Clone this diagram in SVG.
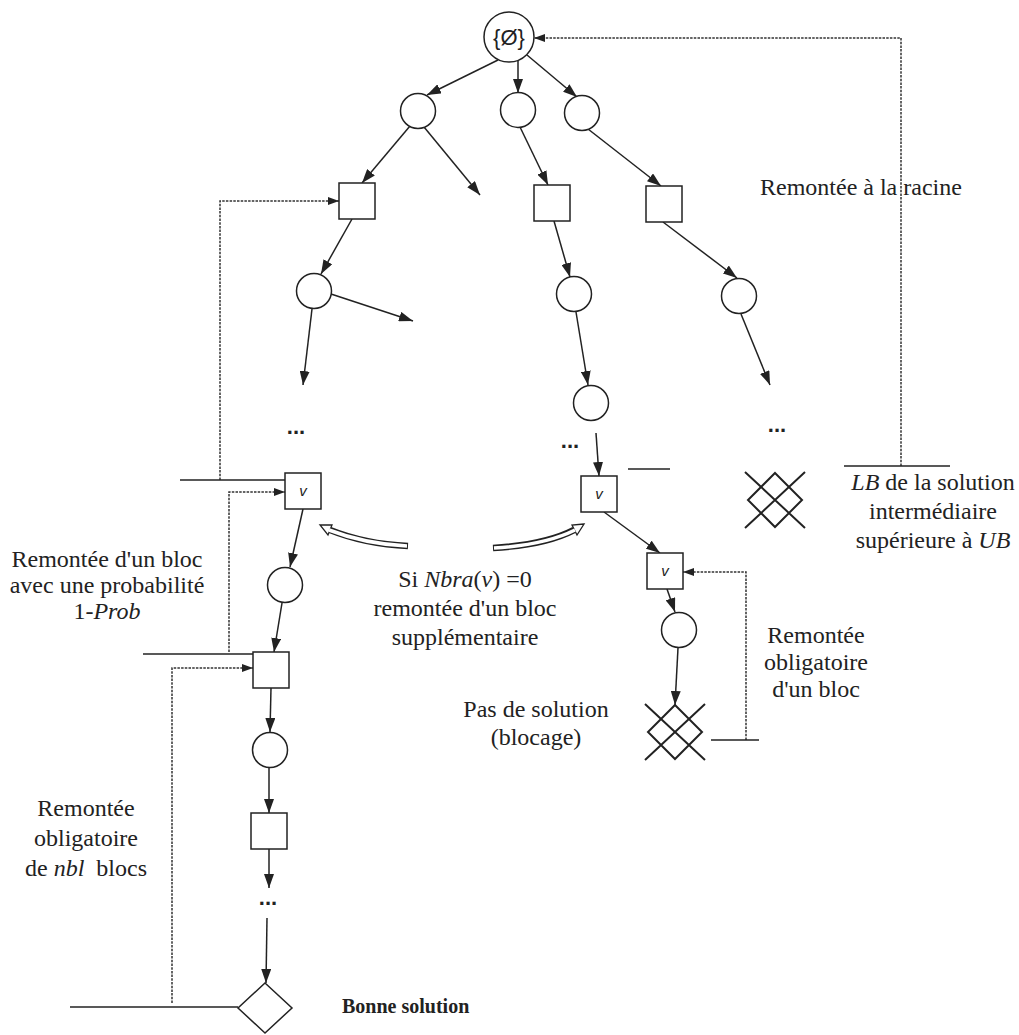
<svg xmlns="http://www.w3.org/2000/svg" width="1019" height="1035" viewBox="0 0 1019 1035">
<defs>
<style>
.n{fill:#fff;stroke:#222;stroke-width:1.5}
.e{stroke:#222;stroke-width:1.5;fill:none;marker-end:url(#ah)}
.d{stroke:#333;stroke-width:1.5;fill:none;stroke-dasharray:2.5 1.2;marker-end:url(#ahs)}
.s{stroke:#222;stroke-width:1.5;fill:none}
.x{stroke:#222;stroke-width:2;fill:none}
.t{font-family:"Liberation Serif",serif;font-size:24px;fill:#222}
.m{text-anchor:middle}
.v{font-family:"Liberation Sans",sans-serif;font-style:italic;font-size:15px;fill:#222;text-anchor:middle}
.dots{font-family:"Liberation Sans",sans-serif;font-weight:bold;font-size:22px;fill:#222;text-anchor:middle}
.bo{stroke:#222;stroke-width:6.5;fill:none}
.bi{stroke:#fff;stroke-width:3.5;fill:none}
.hd{fill:#fff;stroke:#222;stroke-width:1.3;stroke-linejoin:miter}
</style>
<marker id="ah" markerUnits="userSpaceOnUse" markerWidth="14" markerHeight="10" viewBox="0 0 14 10" refX="14" refY="5" orient="auto"><path d="M0,0 L14,5 L0,10 z" fill="#222"/></marker>
<marker id="ahs" markerUnits="userSpaceOnUse" markerWidth="11" markerHeight="8" viewBox="0 0 11 8" refX="11" refY="4" orient="auto"><path d="M0,0 L11,4 L0,8 z" fill="#222"/></marker>
</defs>
<rect width="1019" height="1035" fill="#fff"/>

<g id="connectors">
<path class="e" d="M498,60 L427,95"/>
<path class="e" d="M518,61 L518,93"/>
<path class="e" d="M527,55 L577,97"/>
<path class="e" d="M410,126 L362,183"/>
<path class="e" d="M424,127 L480,195"/>
<path class="e" d="M520,127 L548,185"/>
<path class="e" d="M588,129 L661,186"/>
<path class="e" d="M352,219 L321,274"/>
<path class="e" d="M331,294 L413,321"/>
<path class="e" d="M312,309 L303,385"/>
<path class="e" d="M554,221 L570,277"/>
<path class="e" d="M576,312 L588,385"/>
<path class="e" d="M596,433 L599,476"/>
<path class="e" d="M663,222 L737,278"/>
<path class="e" d="M741,314 L770,385"/>
<path class="e" d="M604,512 L660,553"/>
<path class="e" d="M667,589 L675,612"/>
<path class="e" d="M678,648 L675,705"/>
<path class="e" d="M303,509 L290,567"/>
<path class="e" d="M282,603 L274,652"/>
<path class="e" d="M271,688 L270,732"/>
<path class="e" d="M269,768 L269,813"/>
<path class="e" d="M269,849 L269,888"/>
<path class="e" d="M267,918 L266,983"/>

<path class="d" d="M901,466 L901,38 L534,38"/>
<path class="d" d="M220,480 L220,201 L339,201"/>
<path class="d" d="M229,652 L229,492 L285,492"/>
<path class="d" d="M172,1003 L172,668 L253,668"/>
<path class="d" d="M746,740 L746,572 L683,572"/>

<path class="s" d="M844,466 L950,466"/>
<path class="s" d="M180,480 L285,480"/>
<path class="s" d="M143,654 L253,654"/>
<path class="s" d="M70,1007 L238,1007"/>
<path class="s" d="M711,740 L759,740"/>
<path class="s" d="M628,469 L670,469"/>

<g id="hollow-left">
<path class="bo" d="M408,546 Q365,544 330,530"/>
<polygon class="hd" points="320,525 332,525 328,535"/>
<path class="bi" d="M407,546 Q365,544 329,530"/>
</g>
<g id="hollow-right">
<path class="bo" d="M493,548 Q545,545 574,530"/>
<polygon class="hd" points="584,524 572,525 577,535"/>
<path class="bi" d="M494,548 Q545,545 575,530"/>
</g>
</g>

<g id="root"><circle class="n" cx="509" cy="37" r="25"/><text x="509" y="45" style="font-family:'Liberation Sans',sans-serif;font-size:22px;fill:#222;text-anchor:middle">{Ø}</text></g>
<g id="c1L"><circle class="n" cx="418" cy="111" r="17.5"/></g>
<g id="c1M"><circle class="n" cx="518" cy="110" r="17.5"/></g>
<g id="c1R"><circle class="n" cx="582" cy="113" r="17.5"/></g>
<g id="s2L"><rect class="n" x="339" y="183" width="36" height="36"/></g>
<g id="s2M"><rect class="n" x="534" y="185" width="36" height="36"/></g>
<g id="s2R"><rect class="n" x="646" y="186" width="36" height="36"/></g>
<g id="c3L"><circle class="n" cx="314" cy="291" r="17.5"/></g>
<g id="c3M"><circle class="n" cx="574" cy="294" r="17.5"/></g>
<g id="c3R"><circle class="n" cx="739" cy="296" r="17.5"/></g>
<g id="c4M"><circle class="n" cx="591" cy="403" r="17.5"/></g>
<g id="dots1"><text class="dots" x="296" y="434">...</text></g>
<g id="dots2"><text class="dots" x="570" y="448">...</text></g>
<g id="dots3"><text class="dots" x="777" y="432">...</text></g>
<g id="v1"><rect class="n" x="581" y="476" width="36" height="36"/><text class="v" x="599" y="499">v</text></g>
<g id="cross1"><path class="x" d="M745,472 L805,528 M805,472 L745,528 M775,473 L802,500 L775,527 L748,500 Z"/></g>
<g id="v2"><rect class="n" x="285" y="473" width="36" height="36"/><text class="v" x="303" y="496">v</text></g>
<g id="c5"><circle class="n" cx="285" cy="585" r="17.5"/></g>
<g id="s5"><rect class="n" x="253" y="652" width="36" height="36"/></g>
<g id="c6"><circle class="n" cx="270" cy="750" r="17.5"/></g>
<g id="s6"><rect class="n" x="251" y="813" width="36" height="36"/></g>
<g id="dots4"><text class="dots" x="268" y="905">...</text></g>
<g id="good"><polygon class="n" points="265,983 292,1008 265,1033 238,1008"/></g>
<g id="v3"><rect class="n" x="647" y="553" width="36" height="36"/><text class="v" x="665" y="576">v</text></g>
<g id="c7"><circle class="n" cx="679" cy="630" r="17.5"/></g>
<g id="cross2"><path class="x" d="M645,704 L705,760 M705,704 L645,760 M675,705 L702,732 L675,759 L648,732 Z"/></g>

<g id="labels">
<text class="t" x="760" y="195">Remontée à la racine</text>
<text class="t m" x="933" y="490"><tspan font-style="italic">LB</tspan> de la solution</text>
<text class="t m" x="933" y="519">intermédiaire</text>
<text class="t m" x="933" y="548">supérieure à <tspan font-style="italic">UB</tspan></text>
<text class="t m" x="107" y="567">Remontée d'un bloc</text>
<text class="t m" x="107" y="593">avec une probabilité</text>
<text class="t m" x="107" y="619">1-<tspan font-style="italic">Prob</tspan></text>
<text class="t m" x="465" y="587">Si <tspan font-style="italic">Nbra</tspan>(<tspan font-style="italic">v</tspan>) =0</text>
<text class="t m" x="465" y="616">remontée d'un bloc</text>
<text class="t m" x="465" y="645">supplémentaire</text>
<text class="t m" x="816" y="643">Remontée</text>
<text class="t m" x="816" y="670">obligatoire</text>
<text class="t m" x="816" y="697">d'un bloc</text>
<text class="t m" x="536" y="717">Pas de solution</text>
<text class="t m" x="536" y="745">(blocage)</text>
<text class="t m" x="86" y="816">Remontée</text>
<text class="t m" x="86" y="846">obligatoire</text>
<text class="t m" x="86" y="876">de <tspan font-style="italic">nbl</tspan><tspan dx="6"> blocs</tspan></text>
<text class="t" x="342" y="1013" style="font-weight:bold;font-size:20px">Bonne solution</text>
</g>
</svg>
